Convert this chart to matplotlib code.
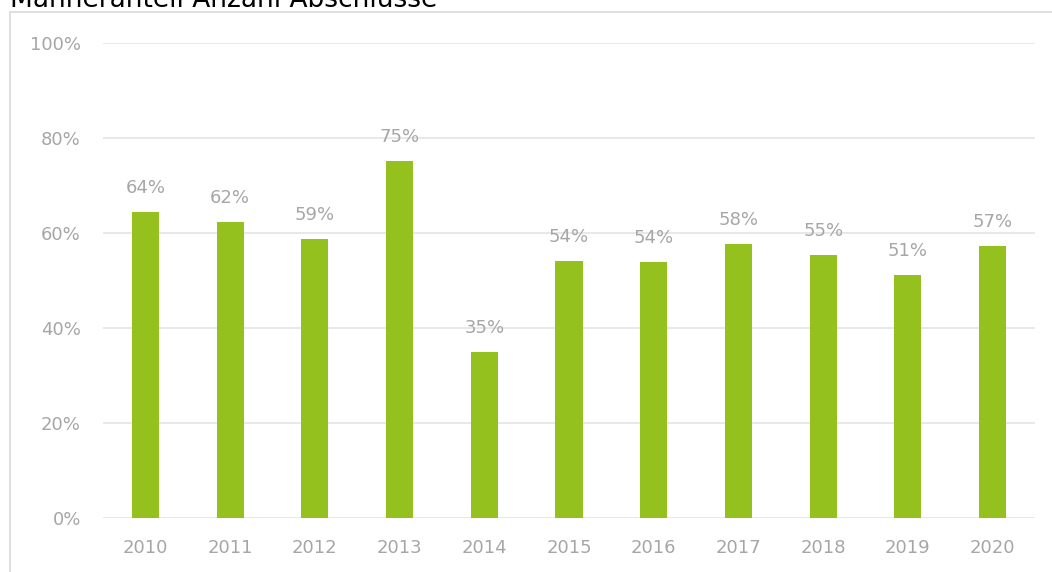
import matplotlib
matplotlib.use("Agg")
import matplotlib.pyplot as plt
from matplotlib.patches import Rectangle

years = ["2010", "2011", "2012", "2013", "2014", "2015", "2016", "2017", "2018", "2019", "2020"]
values = [64.4, 62.3, 58.7, 75.2, 34.9, 54.1, 53.9, 57.7, 55.4, 51.2, 57.3]
labels = ["64%", "62%", "59%", "75%", "35%", "54%", "54%", "58%", "55%", "51%", "57%"]
yticks = [0, 20, 40, 60, 80, 100]
ytick_labels = ["0%", "20%", "40%", "60%", "80%", "100%"]
title = "Männeranteil Anzahl Abschlüsse"

W, H = 1052, 572
fig = plt.figure(figsize=(W / 100, H / 100), dpi=100)
plt.rcParams['font.family'] = ['DejaVu Sans']

# outer chart border (cut off at right and bottom)
fig.patches.append(Rectangle((10 / W, -0.05), 1.1, (H - 12) / H + 0.05,
                             transform=fig.transFigure, fill=False,
                             edgecolor="#D9D9D9", linewidth=1.2))

ax = fig.add_axes([103 / W, (H - 518) / H, (1035 - 103) / W, (518 - 43) / H])
gray = "#A6A6A6"
green = "#95C11F"
x = list(range(len(years)))
bars = ax.bar(x, values, width=0.32, color=green, zorder=3)
ax.set_xlim(-0.5, len(years) - 0.5)
ax.set_ylim(0, 100)
ax.set_yticks(yticks)
ax.set_yticklabels(ytick_labels)
ax.set_xticks(x)
ax.set_xticklabels(years)
for s in ax.spines.values():
    s.set_visible(False)
ax.grid(axis="y", color="#E6E6E6", linewidth=1.3, zorder=0)
ax.set_axisbelow(True)
ax.tick_params(axis="both", length=0, colors=gray, labelsize=13)
ax.tick_params(axis="y", pad=16)
ax.tick_params(axis="x", pad=15)
for xi, v, lab in zip(x, values, labels):
    ax.annotate(lab, (xi, v), xytext=(0, 11), textcoords="offset points",
                ha="center", va="bottom", color=gray, fontsize=13, zorder=4)

fig.text(10 / W, (H - 7) / H, title, ha="left", va="baseline",
         fontsize=19, color="#000000")

fig.savefig("out.png", dpi=100)
